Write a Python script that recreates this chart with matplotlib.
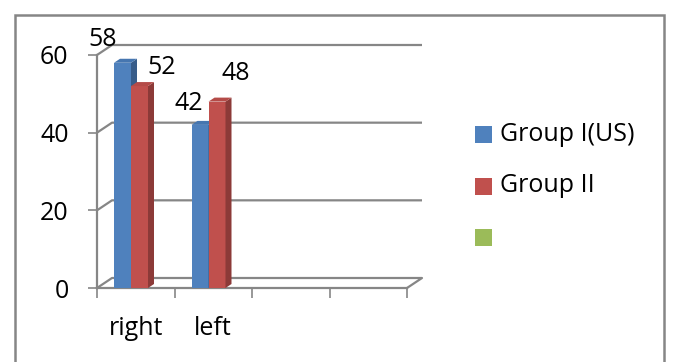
import matplotlib
matplotlib.use("Agg")
import matplotlib.pyplot as plt
from matplotlib.patches import Polygon, Rectangle

plt.rcParams['font.family'] = ['Open Sans', 'DejaVu Sans']

categories = ['right', 'left', '', '']
series_names = ['Group I(US)', 'Group II', '']
group1 = [58, 42]
group2 = [52, 48]
y_ticks = [0, 20, 40, 60]

front_colors = ['#4F81BD', '#C0504D', '#9BBB59']
side_colors = ['#385D8A', '#8C3A38', '#71893F']
top_colors = ['#4676B0', '#B44B48', '#8DAA50']
grid_col = '#868686'

W, H = 676, 362
fig = plt.figure(figsize=(W / 100, H / 100), dpi=100)

# front plane of the 3-D box, in pixels
x_left, x_right = 97, 407
y_bottom, y_top = 288, 55
ax = fig.add_axes([x_left / W, 1 - y_bottom / H,
                   (x_right - x_left) / W, (y_bottom - y_top) / H])
n_cat = len(categories)
ax.set_xlim(0, n_cat)
ax.set_ylim(0, 60)
px_x = (x_right - x_left) / n_cat
px_y = (y_bottom - y_top) / 60.0

# depth of the box and of the columns, converted to data units
box_dx, box_dy = 15 / px_x, 10 / px_y
bar_dx, bar_dy = 6 / px_x, 4 / px_y

# walls: gridlines with the receding left edge
for v in y_ticks[1:]:
    ax.plot([0, box_dx, n_cat + box_dx], [v, v + box_dy, v + box_dy],
            color=grid_col, lw=1.6, clip_on=False, zorder=1,
            solid_capstyle='butt')
# floor
ax.plot([0, box_dx, n_cat + box_dx, n_cat],
        [0, box_dy, box_dy, 0],
        color=grid_col, lw=1.6, clip_on=False, zorder=1)

bar_w = 17 / px_x
bar_off = 17 / px_x


def draw_series(values, offset, k):
    xs = [i + offset for i in range(len(values))]
    ax.bar(xs, values, width=bar_w, align='edge', color=front_colors[k],
           linewidth=0, zorder=3 + k, clip_on=False)
    for x, v in zip(xs, values):
        side = Polygon([(x + bar_w, 0), (x + bar_w + bar_dx, bar_dy),
                        (x + bar_w + bar_dx, v + bar_dy), (x + bar_w, v)],
                       closed=True, facecolor=side_colors[k], lw=0,
                       zorder=3 + k, clip_on=False)
        top = Polygon([(x, v), (x + bar_dx, v + bar_dy),
                       (x + bar_w + bar_dx, v + bar_dy), (x + bar_w, v)],
                      closed=True, facecolor=top_colors[k], lw=0,
                      zorder=3 + k, clip_on=False)
        ax.add_patch(side)
        ax.add_patch(top)
    return xs


xs1 = draw_series(group1, bar_off, 0)
xs2 = draw_series(group2, bar_off + bar_w, 1)

fs = 18
# value labels with per-label offsets (pixels)
label_offsets = [[(-20, 23), (-11, 21)], [(22, 19), (19, 28)]]
for k, (xs, vals) in enumerate([(xs1, group1), (xs2, group2)]):
    for j, (x, v) in enumerate(zip(xs, vals)):
        ox, oy = label_offsets[k][j]
        ax.annotate(str(v), (x + bar_w / 2, v), xytext=(ox * 0.72, oy * 0.72),
                    textcoords='offset points', ha='center', va='center',
                    fontsize=fs, color='black', zorder=10,
                    annotation_clip=False)

for s in ['top', 'right']:
    ax.spines[s].set_visible(False)
for s in ['left', 'bottom']:
    ax.spines[s].set_color(grid_col)
    ax.spines[s].set_linewidth(1.6)
ax.set_facecolor('none')

ax.set_yticks(y_ticks)
ax.set_yticklabels([str(t) for t in y_ticks])
ax.tick_params(axis='y', direction='out', length=6.5, width=1.2,
               color=grid_col, pad=14, labelsize=fs)
ax.set_xticks(range(n_cat + 1))
ax.set_xticklabels([''] * (n_cat + 1))
ax.set_xticks([i + 0.5 for i in range(n_cat)], minor=True)
ax.set_xticklabels(categories, minor=True)
ax.tick_params(axis='x', which='major', direction='out', length=7,
               width=1.2, color=grid_col)
ax.tick_params(axis='x', which='minor', length=0, pad=20, labelsize=fs)

# legend
leg_x, leg_rows = 475, [134, 186, 237]
sq = 17
for name, col, yc in zip(series_names, front_colors, leg_rows):
    fig.add_artist(Rectangle((leg_x / W, 1 - (yc + sq / 2) / H), sq / W, sq / H,
                             transform=fig.transFigure, facecolor=col, lw=0))
    fig.text((leg_x + sq + 8) / W, 1 - yc / H, name, ha='left',
             va='center', fontsize=fs)

# chart border
fig.add_artist(Rectangle((15 / W, -0.05), (664 - 15) / W, 1 - 15 / H + 0.05,
                         transform=fig.transFigure, fill=False,
                         edgecolor='#868686', lw=1.8))

fig.savefig('out.png', dpi=100)
